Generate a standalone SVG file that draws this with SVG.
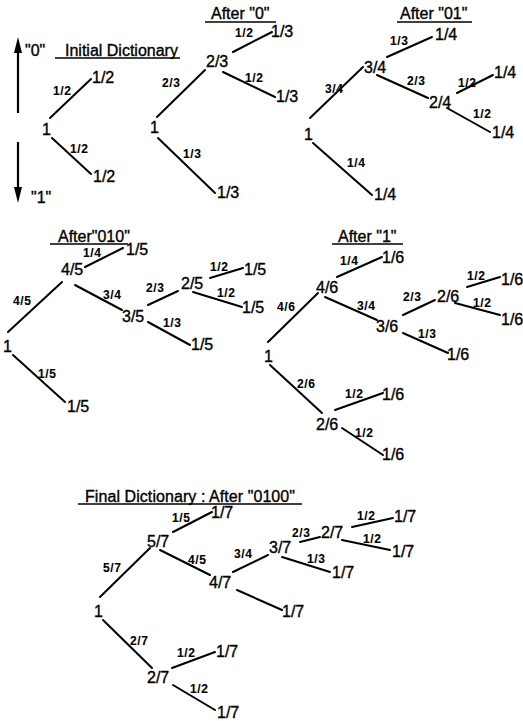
<svg xmlns="http://www.w3.org/2000/svg" width="523" height="721" viewBox="0 0 523 721">
<style>
text{font-family:"Liberation Sans",Arial,sans-serif;fill:#000;stroke:#000;stroke-width:0.35}
.n{font-size:16px}
.e{font-size:12px;font-weight:bold;letter-spacing:0.6px;stroke-width:0.1}
.t{font-size:16px}
.c line{stroke:#000;stroke-width:2;stroke-linecap:round}
.u{stroke:#000;stroke-width:1.5}
</style>
<rect width="523" height="721" fill="#fff"/>
<!-- legend -->
<g id="legend">
<line x1="18" y1="113" x2="18" y2="50" stroke="#000" stroke-width="2.2"/>
<polygon points="18,37 14,53 22,53" fill="#000"/>
<line x1="18" y1="142" x2="18" y2="190" stroke="#000" stroke-width="2.2"/>
<polygon points="18,203 14,187 22,187" fill="#000"/>
<text class="t" x="25" y="56">"0"</text>
<text class="t" x="31" y="203">"1"</text>
</g>
<!-- titles -->
<g id="titles">
<text class="t" x="65" y="56">Initial Dictionary</text><line class="u" x1="55" y1="58" x2="180" y2="58"/>
<text class="t" x="211" y="19">After "0"</text><line class="u" x1="205" y1="22" x2="276" y2="22"/>
<text class="t" x="400" y="19">After "01"</text><line class="u" x1="397" y1="22" x2="472" y2="22"/>
<text class="t" x="58" y="242">After"010"</text><line class="u" x1="50" y1="244" x2="128" y2="244"/>
<text class="t" x="338" y="242">After "1"</text><line class="u" x1="332" y1="244" x2="403" y2="244"/>
<text class="t" x="85" y="502" textLength="210">Final Dictionary : After "0100"</text><line class="u" x1="78" y1="504" x2="302" y2="504"/>
</g>
<!-- connectors -->
<g id="connectors" class="c">
<line x1="50" y1="118" x2="91" y2="79"/><line x1="52" y1="138" x2="91" y2="174"/>
<line x1="233" y1="52" x2="272" y2="32"/><line x1="157" y1="117" x2="205" y2="70"/><line x1="223" y1="72" x2="275" y2="97"/><line x1="158" y1="138" x2="215" y2="193"/>
<line x1="387" y1="57" x2="432" y2="37"/><line x1="310" y1="118" x2="363" y2="67"/><line x1="377" y1="75" x2="428" y2="98"/><line x1="457" y1="93" x2="493" y2="75"/><line x1="447" y1="108" x2="490" y2="132"/><line x1="313" y1="143" x2="372" y2="195"/>
<line x1="85" y1="267" x2="123" y2="248"/><line x1="8" y1="332" x2="62" y2="282"/><line x1="75" y1="285" x2="122" y2="310"/><line x1="148" y1="305" x2="178" y2="291"/><line x1="210" y1="278" x2="243" y2="268"/><line x1="193" y1="292" x2="242" y2="307"/><line x1="148" y1="322" x2="190" y2="345"/><line x1="13" y1="355" x2="65" y2="402"/>
<line x1="337" y1="277" x2="382" y2="257"/><line x1="268" y1="342" x2="318" y2="293"/><line x1="325" y1="297" x2="377" y2="320"/><line x1="403" y1="315" x2="435" y2="300"/><line x1="467" y1="287" x2="500" y2="277"/><line x1="455" y1="303" x2="500" y2="315"/><line x1="403" y1="333" x2="448" y2="353"/><line x1="270" y1="365" x2="322" y2="413"/><line x1="335" y1="410" x2="383" y2="393"/><line x1="342" y1="428" x2="383" y2="455"/>
<line x1="173" y1="532" x2="212" y2="512"/><line x1="100" y1="597" x2="150" y2="548"/><line x1="160" y1="550" x2="210" y2="575"/><line x1="237" y1="590" x2="282" y2="610"/><line x1="233" y1="572" x2="268" y2="555"/><line x1="300" y1="542" x2="320" y2="537"/><line x1="352" y1="527" x2="393" y2="518"/><line x1="342" y1="540" x2="390" y2="550"/><line x1="282" y1="557" x2="330" y2="572"/><line x1="103" y1="620" x2="152" y2="668"/><line x1="172" y1="668" x2="215" y2="652"/><line x1="173" y1="685" x2="215" y2="710"/>
</g>
<g id="edge-labels">
<text class="e" x="53" y="95">1/2</text><text class="e" x="70" y="153">1/2</text>
<text class="e" x="235" y="37">1/2</text><text class="e" x="162" y="87">2/3</text><text class="e" x="245" y="82">1/2</text><text class="e" x="183" y="158">1/3</text>
<text class="e" x="390" y="45">1/3</text><text class="e" x="325" y="93">3/4</text><text class="e" x="407" y="85">2/3</text><text class="e" x="458" y="87">1/2</text><text class="e" x="473" y="118">1/2</text><text class="e" x="347" y="167">1/4</text>
<text class="e" x="83" y="257">1/4</text><text class="e" x="13" y="305">4/5</text><text class="e" x="103" y="299">3/4</text><text class="e" x="146" y="292">2/3</text><text class="e" x="210" y="271">1/2</text><text class="e" x="217" y="297">1/2</text><text class="e" x="163" y="327">1/3</text><text class="e" x="38" y="378">1/5</text>
<text class="e" x="340" y="265">1/4</text><text class="e" x="277" y="311">4/6</text><text class="e" x="357" y="310">3/4</text><text class="e" x="403" y="301">2/3</text><text class="e" x="467" y="280">1/2</text><text class="e" x="473" y="307">1/2</text><text class="e" x="418" y="338">1/3</text><text class="e" x="297" y="388">2/6</text><text class="e" x="345" y="398">1/2</text><text class="e" x="355" y="437">1/2</text>
<text class="e" x="172" y="522">1/5</text><text class="e" x="103" y="572">5/7</text><text class="e" x="188" y="564">4/5</text><text class="e" x="234" y="558">3/4</text><text class="e" x="292" y="537">2/3</text><text class="e" x="357" y="520">1/2</text><text class="e" x="363" y="543">1/2</text><text class="e" x="307" y="563">1/3</text><text class="e" x="130" y="645">2/7</text><text class="e" x="177" y="657">1/2</text><text class="e" x="190" y="693">1/2</text>
</g>
<!-- panel 1 -->
<g id="p1-root"><text class="n" x="42" y="135">1</text></g>
<g id="p1-0"><text class="n" x="92" y="83">1/2</text></g>
<g id="p1-1"><text class="n" x="93" y="182">1/2</text></g>
<!-- panel 2 -->
<g id="p2-root"><text class="n" x="150" y="133">1</text></g>
<g id="p2-0"><text class="n" x="206" y="67">2/3</text></g>
<g id="p2-00"><text class="n" x="271" y="37">1/3</text></g>
<g id="p2-01"><text class="n" x="276" y="102">1/3</text></g>
<g id="p2-1"><text class="n" x="217" y="198">1/3</text></g>
<!-- panel 3 -->
<g id="p3-root"><text class="n" x="304" y="140">1</text></g>
<g id="p3-0"><text class="n" x="364" y="73">3/4</text></g>
<g id="p3-00"><text class="n" x="435" y="40">1/4</text></g>
<g id="p3-01"><text class="n" x="429" y="108">2/4</text></g>
<g id="p3-010"><text class="n" x="494" y="78">1/4</text></g>
<g id="p3-011"><text class="n" x="492" y="138">1/4</text></g>
<g id="p3-1"><text class="n" x="374" y="200">1/4</text></g>
<!-- panel 4 -->
<g id="p4-root"><text class="n" x="3" y="352">1</text></g>
<g id="p4-0"><text class="n" x="61" y="275">4/5</text></g>
<g id="p4-00"><text class="n" x="126" y="255">1/5</text></g>
<g id="p4-01"><text class="n" x="122" y="322">3/5</text></g>
<g id="p4-010"><text class="n" x="181" y="289">2/5</text></g>
<g id="p4-0100"><text class="n" x="244" y="275">1/5</text></g>
<g id="p4-0101"><text class="n" x="242" y="313">1/5</text></g>
<g id="p4-011"><text class="n" x="191" y="350">1/5</text></g>
<g id="p4-1"><text class="n" x="67" y="412">1/5</text></g>
<!-- panel 5 -->
<g id="p5-root"><text class="n" x="264" y="362">1</text></g>
<g id="p5-0"><text class="n" x="316" y="293">4/6</text></g>
<g id="p5-00"><text class="n" x="382" y="263">1/6</text></g>
<g id="p5-01"><text class="n" x="376" y="332">3/6</text></g>
<g id="p5-010"><text class="n" x="437" y="302">2/6</text></g>
<g id="p5-0100"><text class="n" x="501" y="285">1/6</text></g>
<g id="p5-0101"><text class="n" x="501" y="325">1/6</text></g>
<g id="p5-011"><text class="n" x="447" y="360">1/6</text></g>
<g id="p5-1"><text class="n" x="316" y="430">2/6</text></g>
<g id="p5-10"><text class="n" x="382" y="400">1/6</text></g>
<g id="p5-11"><text class="n" x="382" y="460">1/6</text></g>
<!-- panel 6 -->
<g id="p6-root"><text class="n" x="94" y="617">1</text></g>
<g id="p6-0"><text class="n" x="147" y="547">5/7</text></g>
<g id="p6-00"><text class="n" x="211" y="518">1/7</text></g>
<g id="p6-01"><text class="n" x="209" y="588">4/7</text></g>
<g id="p6-010"><text class="n" x="269" y="553">3/7</text></g>
<g id="p6-0100"><text class="n" x="321" y="538">2/7</text></g>
<g id="p6-01000"><text class="n" x="394" y="522">1/7</text></g>
<g id="p6-01001"><text class="n" x="392" y="557">1/7</text></g>
<g id="p6-0101"><text class="n" x="332" y="578">1/7</text></g>
<g id="p6-011"><text class="n" x="282" y="617">1/7</text></g>
<g id="p6-1"><text class="n" x="147" y="683">2/7</text></g>
<g id="p6-10"><text class="n" x="216" y="657">1/7</text></g>
<g id="p6-11"><text class="n" x="217" y="718">1/7</text></g>
</svg>
